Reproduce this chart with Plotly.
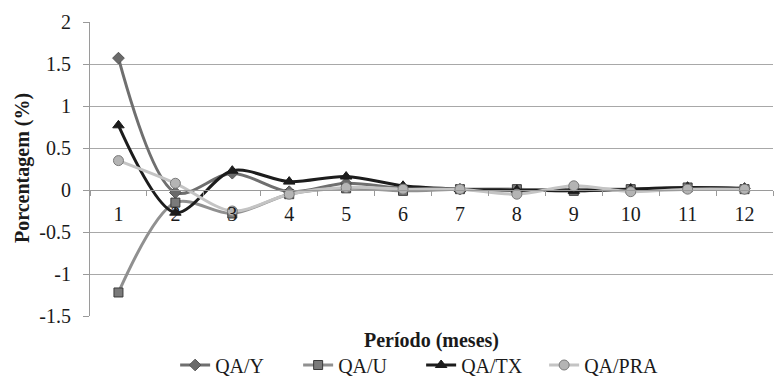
import plotly.graph_objects as go

# Period (months) and percentage responses per series
periods = ["1", "2", "3", "4", "5", "6", "7", "8", "9", "10", "11", "12"]
qa_y = [1.57, -0.03, 0.20, -0.02, 0.08, 0.02, 0.01, 0.00, 0.01, 0.01, 0.03, 0.02]
qa_u = [-1.22, -0.15, -0.28, -0.05, 0.02, -0.01, 0.01, 0.01, -0.01, 0.01, 0.03, 0.01]
qa_tx = [0.77, -0.27, 0.23, 0.10, 0.16, 0.05, 0.01, 0.00, -0.01, 0.01, 0.03, 0.02]
qa_pra = [0.35, 0.08, -0.25, -0.05, 0.03, 0.01, 0.01, -0.05, 0.05, -0.02, 0.01, 0.01]

y_ticks = [-1.5, -1, -0.5, 0, 0.5, 1, 1.5, 2]
y_tick_text = ["-1.5", "-1", "-0.5", "0", "0.5", "1", "1.5", "2"]

serif = "'Liberation Serif', 'Times New Roman', Tinos, 'DejaVu Serif', serif"

series = [
    ("QA/Y", qa_y, "#6f6f6f", "diamond", "#6a6a6a", "#555555", 9),
    ("QA/U", qa_u, "#909090", "square", "#7a7a7a", "#3a3a3a", 9),
    ("QA/TX", qa_tx, "#1c1c1c", "triangle-up", "#1c1c1c", "#1c1c1c", 10),
    ("QA/PRA", qa_pra, "#c4c4c4", "circle", "#b4b4b4", "#7a7a7a", 10),
]

fig = go.Figure()
for name, vals, lc, sym, mfill, medge, msize in series:
    fig.add_trace(go.Scatter(
        x=periods, y=vals, name=name, mode="lines+markers",
        line=dict(color=lc, width=3, shape="spline", smoothing=0.9),
        marker=dict(symbol=sym, size=msize, color=mfill,
                    line=dict(color=medge, width=1)),
    ))

ymin, ymax = -1.5, 2.0
zero_pos = (0 - ymin) / (ymax - ymin)
plot_h = 380 - 22 - 64
plot_w = 777 - 90 - 4

fig.update_layout(
    width=777, height=380,
    margin=dict(l=90, r=4, t=22, b=64, autoexpand=False),
    paper_bgcolor="white", plot_bgcolor="white",
    font=dict(family=serif, size=20, color="#1a1a1a"),
    showlegend=True,
    legend=dict(orientation="h", x=0.542, xanchor="center", xref="container",
                y=(380 - 365) / 380, yanchor="middle", yref="container",
                font=dict(family=serif, size=20), entrywidth=78,
                traceorder="normal"),
    xaxis=dict(type="category", range=[-0.5, len(periods) - 0.5],
               anchor="free", position=zero_pos,
               showgrid=False, showline=True, linecolor="#9a9a9a", linewidth=1,
               ticks="outside", tickson="boundaries", ticklen=5,
               tickcolor="#9a9a9a", ticklabelstandoff=6, automargin=False,
               tickfont=dict(family=serif, size=20), zeroline=False),
    yaxis=dict(range=[ymin, ymax], tickvals=y_ticks, ticktext=y_tick_text,
               showgrid=True, gridcolor="#a8a8a8", gridwidth=1,
               showline=True, linecolor="#9a9a9a", linewidth=1,
               ticks="outside", ticklen=6, tickcolor="#9a9a9a",
               ticklabelstandoff=8,
               zeroline=False, tickfont=dict(family=serif, size=20),
               automargin=False),
    annotations=[
        dict(text="<b>Período (meses)</b>", x=0.5, xref="paper",
             y=-(340 - 316) / plot_h, yref="paper", yanchor="middle",
             showarrow=False, font=dict(family=serif, size=20)),
        dict(text="<b>Porcentagem (%)</b>", x=-(90 - 22) / plot_w,
             xref="paper", xanchor="center",
             y=(316 - 168) / plot_h, yref="paper", yanchor="middle",
             textangle=-90, showarrow=False, font=dict(family=serif, size=20)),
    ],
)

fig.write_html("out.html")
